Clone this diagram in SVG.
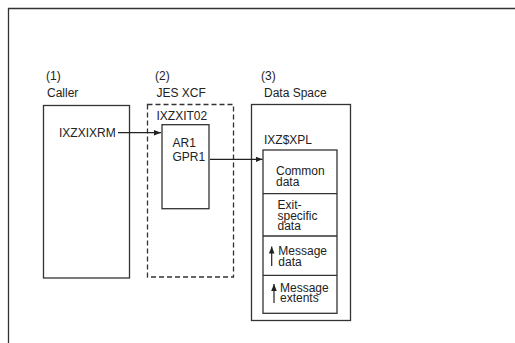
<svg xmlns="http://www.w3.org/2000/svg" width="515" height="343" viewBox="0 0 515 343">
<style>
text{font-family:"Liberation Sans",Arial,sans-serif;font-size:12px;fill:#222}
.box{fill:none;stroke:#333;stroke-width:1.3}
.dash{fill:none;stroke:#333;stroke-width:1.3;stroke-dasharray:5,3}
.ln{fill:none;stroke:#222;stroke-width:1.2}
</style>
<defs>
<marker id="ah" viewBox="0 0 10 10" refX="10" refY="5" markerWidth="7" markerHeight="7" markerUnits="userSpaceOnUse" orient="auto">
<path d="M0,1 L10,5 L0,9 z" fill="#222"/>
</marker>
</defs>
<g id="frame">
<path class="box" d="M8.5,343 V8.5 H515" stroke-width="1.5"/>
</g>
<g id="caller">
<text x="46" y="80">(1)</text>
<text x="47" y="97">Caller</text>
<rect class="box" x="43.5" y="105.5" width="86" height="172.5"/>
<text x="59" y="137">IXZXIXRM</text>
</g>
<g id="jesxcf">
<text x="155" y="80">(2)</text>
<text x="156.5" y="97">JES XCF</text>
<rect class="dash" x="147.5" y="104.5" width="86" height="172.5"/>
<text x="156.5" y="119.5">IXZXIT02</text>
</g>
<g id="ixzxit02">
<rect class="box" x="162" y="124.7" width="47" height="84"/>
<text x="172.5" y="147">AR1</text>
<text x="172.5" y="161">GPR1</text>
</g>
<g id="dataspace">
<text x="261" y="80">(3)</text>
<text x="264" y="97">Data Space</text>
<rect class="box" x="251.5" y="104.5" width="99" height="216"/>
<text x="264" y="143.5">IXZ$XPL</text>
</g>
<g id="ixzxpl">
<rect class="box" x="263" y="150" width="74" height="163.3"/>
<line class="box" x1="263" y1="193.7" x2="337" y2="193.7"/>
<line class="box" x1="263" y1="236" x2="337" y2="236"/>
<line class="box" x1="263" y1="275.3" x2="337" y2="275.3"/>
<text x="276" y="175">Common</text>
<text x="276" y="185.5">data</text>
<text x="277.5" y="208.5">Exit-</text>
<text x="277.5" y="219.5">specific</text>
<text x="277.5" y="230">data</text>
<text x="278.3" y="255">Message</text>
<text x="278.3" y="265.5">data</text>
<text x="280" y="292">Message</text>
<text x="280" y="302">extents</text>
</g>
<g id="connectors">
<line class="ln" x1="118" y1="132.7" x2="161" y2="132.7" marker-end="url(#ah)"/>
<line class="ln" x1="210" y1="159.3" x2="262.5" y2="159.3" marker-end="url(#ah)"/>
<line class="ln" x1="271.7" y1="266" x2="271.7" y2="246.5" marker-end="url(#ah)"/>
<line class="ln" x1="274" y1="303" x2="274" y2="284" marker-end="url(#ah)"/>
</g>
</svg>
